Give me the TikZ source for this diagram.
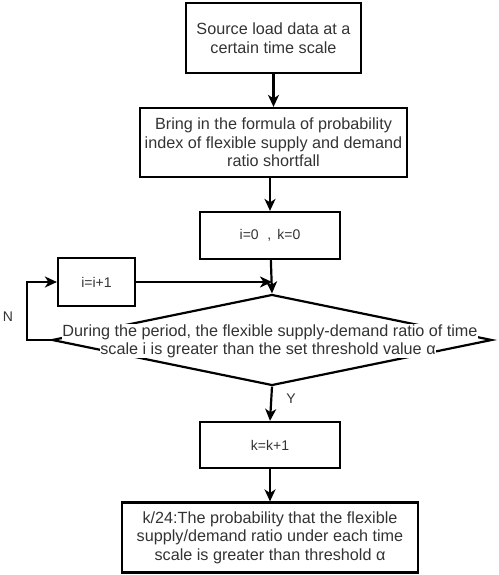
\documentclass[tikz,border=0pt]{standalone}
\usepackage{fontspec}
\setmainfont{Liberation Sans}
\usetikzlibrary{positioning}
\usetikzlibrary{shapes.geometric}
\usetikzlibrary{arrows.meta}
\definecolor{txtgray}{HTML}{333333}
\tikzset{
	every node/.style = {font=\fontsize{16.2}{18.5}\selectfont, text=txtgray},
	stepbox/.style = {draw=black, line width=2.2pt, align=center, inner sep=0pt},
	small/.style = {font=\fontsize{14}{16}\selectfont},
	flow/.style = {line width=2.2pt, -{Stealth[length=12pt, width=11pt, inset=3.5pt]}}
}

\begin{document}
\begin{tikzpicture}[x=1pt, y=-1pt]
		\useasboundingbox (0,0) rectangle (498,575);
		% boxes
		\node[stepbox, minimum width=175pt, minimum height=70pt] (source) at (273.5,38) {Source load data at a\\certain time scale};
		\node[stepbox, minimum width=267pt, minimum height=69pt] (formula) at (273.5,142.5) {Bring in the formula of probability\\index of flexible supply and demand\\ratio shortfall};
		\node[stepbox, small, minimum width=140pt, minimum height=47pt] (init) at (270,235.5) {i=0\,\, , \,k=0};
		\node[stepbox, small, minimum width=77pt, minimum height=48pt] (inci) at (96.5,282) {i=i+1};
		% decision
		\node[diamond, draw=black, line width=2.2pt, minimum width=440pt, minimum height=91pt, inner sep=0pt] (check) at (272,340) {};
		\node[fill=white, inner sep=0.5pt] (checka) at (270,332) {During the period, the flexible supply-demand ratio of time};
		\node[fill=white, inner sep=0.5pt] (checkb) at (268,350) {scale i is greater than the set threshold value α};
		\node[stepbox, small, minimum width=140pt, minimum height=46pt] (inck) at (270,445) {k=k+1};
		\node[stepbox, minimum width=296pt, minimum height=70pt] (result) at (270,537.5) {k/24:The probability that the flexible\\supply/demand ratio under each time\\scale is greater than threshold α};
		\coordinate (back) at (27,340);
		
		% arrows
		\draw[flow] (source) -- (formula);
		\draw[flow] (init.north |- formula.south) -- (init.north);
		\draw[flow] (init) -- (check.north);
		\draw[flow] (inci.east) -- (inci.east -| check.north);
		\draw[flow] (check.west) -- (back) |- (inci.west);
		\draw[flow] (check.south) -- (inck.north);
		\draw[flow] (inck) -- (result);
		
		% labels
		\node[small] (no) at (8,317) {N};
		\node[small] (yes) at (291,399) {Y};
	\end{tikzpicture}
\end{document}
